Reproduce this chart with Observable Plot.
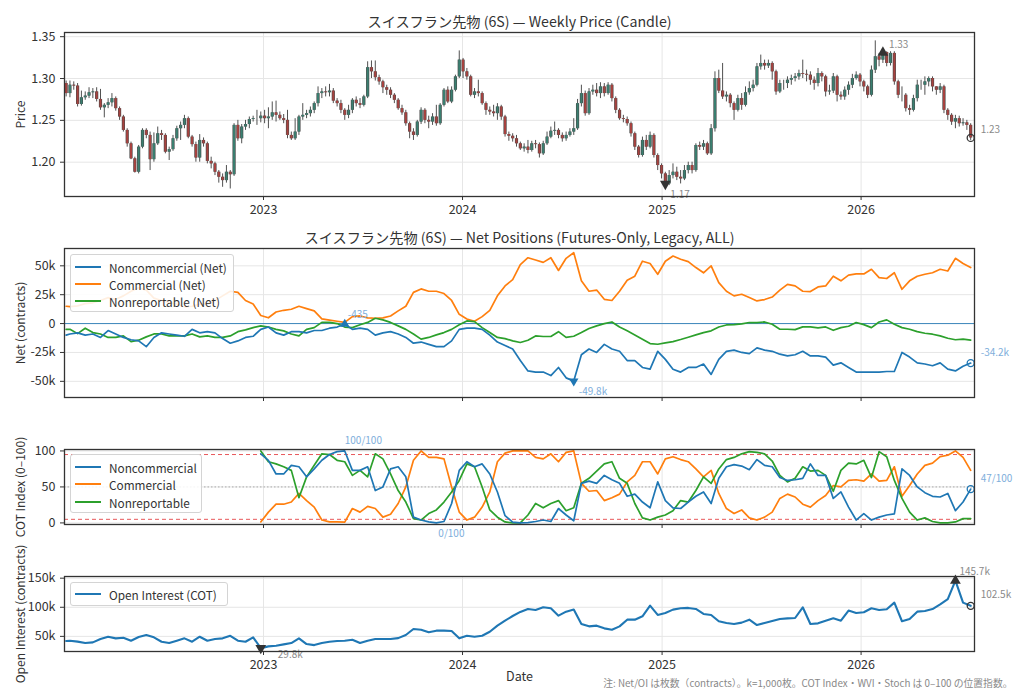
<!DOCTYPE html>
<html><head><meta charset="utf-8">
<script src="https://cdn.jsdelivr.net/npm/d3@7"></script>
<script src="https://cdn.jsdelivr.net/npm/@observablehq/plot@0.6"></script>
<style>
body{margin:0;background:#fff;}
#wrap{position:relative;width:1024px;height:699px;overflow:hidden;background:#fff;font-family:"Noto Sans CJK JP","Noto Sans",sans-serif;}
.panel{position:absolute;left:0;}
.legend{position:absolute;background:rgba(255,255,255,0.88);border:1px solid #d4d4d4;border-radius:3px;font-size:11.8px;color:#333;}
.legend .sw{position:absolute;left:4px;width:26px;height:2px;}
.legend .tx{position:absolute;left:38px;transform:translateY(-50%);white-space:nowrap;}
</style></head>
<body><div id="wrap"></div>
<script>
// ---------------- data ----------------
const firstOpen = 1.294;
const close = [1.282,1.292,1.291,1.269,1.277,1.279,1.283,1.284,1.275,1.265,
1.268,1.271,1.276,1.264,1.254,1.238,1.222,1.204,1.188,1.218,
1.238,1.232,1.203,1.222,1.234,1.232,1.212,1.215,1.228,1.240,
1.244,1.252,1.230,1.221,1.205,1.226,1.222,1.201,1.198,1.188,
1.182,1.178,1.188,1.185,1.244,1.228,1.242,1.245,1.251,1.252,
1.252,1.255,1.252,1.254,1.259,1.256,1.252,1.250,1.232,1.228,
1.236,1.254,1.256,1.258,1.262,1.270,1.282,1.284,1.283,1.285,
1.273,1.270,1.262,1.256,1.262,1.274,1.270,1.268,1.278,1.313,
1.308,1.301,1.296,1.289,1.286,1.280,1.274,1.264,1.259,1.246,
1.236,1.232,1.248,1.262,1.250,1.248,1.254,1.246,1.268,1.286,
1.272,1.286,1.302,1.322,1.308,1.302,1.280,1.284,1.282,1.270,
1.262,1.260,1.258,1.266,1.254,1.233,1.231,1.228,1.222,1.216,
1.218,1.214,1.222,1.221,1.210,1.222,1.230,1.237,1.238,1.232,
1.228,1.232,1.236,1.240,1.270,1.282,1.258,1.284,1.286,1.282,
1.290,1.282,1.292,1.276,1.262,1.252,1.251,1.246,1.234,1.218,
1.208,1.226,1.218,1.232,1.208,1.196,1.186,1.174,1.184,1.188,
1.182,1.180,1.190,1.196,1.190,1.220,1.218,1.222,1.210,1.240,
1.300,1.285,1.278,1.280,1.270,1.262,1.276,1.268,1.283,1.288,
1.292,1.314,1.318,1.315,1.318,1.308,1.284,1.294,1.294,1.298,
1.300,1.302,1.306,1.305,1.304,1.298,1.294,1.306,1.302,1.284,
1.285,1.302,1.280,1.278,1.286,1.292,1.300,1.304,1.296,1.290,
1.280,1.310,1.326,1.322,1.331,1.318,1.330,1.296,1.280,1.280,
1.264,1.262,1.276,1.292,1.292,1.296,1.300,1.290,1.286,1.290,
1.262,1.256,1.248,1.252,1.246,1.247,1.244,1.229];
const high = [1.297,1.297,1.296,1.294,1.285,1.284,1.289,1.288,1.289,1.287,
1.270,1.276,1.282,1.278,1.266,1.256,1.240,1.224,1.206,1.220,
1.240,1.240,1.236,1.235,1.242,1.238,1.234,1.218,1.232,1.243,
1.248,1.256,1.254,1.232,1.224,1.233,1.229,1.224,1.206,1.200,
1.190,1.186,1.196,1.190,1.246,1.250,1.245,1.250,1.254,1.255,
1.262,1.260,1.262,1.265,1.272,1.273,1.260,1.257,1.262,1.236,
1.252,1.256,1.270,1.262,1.266,1.272,1.290,1.288,1.290,1.293,
1.288,1.276,1.274,1.264,1.268,1.276,1.278,1.276,1.280,1.320,
1.321,1.321,1.304,1.298,1.292,1.289,1.282,1.276,1.268,1.262,
1.248,1.240,1.250,1.265,1.264,1.255,1.258,1.268,1.270,1.288,
1.290,1.290,1.304,1.333,1.324,1.312,1.304,1.288,1.298,1.284,
1.272,1.266,1.268,1.270,1.268,1.256,1.236,1.234,1.232,1.224,
1.222,1.226,1.225,1.226,1.223,1.225,1.236,1.242,1.248,1.240,
1.235,1.236,1.240,1.252,1.275,1.292,1.285,1.288,1.292,1.294,
1.295,1.294,1.295,1.294,1.278,1.264,1.256,1.254,1.248,1.236,
1.220,1.230,1.232,1.236,1.234,1.210,1.198,1.188,1.190,1.198,
1.194,1.190,1.196,1.200,1.200,1.222,1.224,1.226,1.224,1.245,
1.308,1.310,1.318,1.284,1.282,1.272,1.280,1.282,1.290,1.296,
1.298,1.318,1.328,1.322,1.322,1.320,1.310,1.298,1.298,1.302,
1.304,1.306,1.310,1.322,1.310,1.308,1.302,1.312,1.308,1.304,
1.292,1.306,1.304,1.284,1.290,1.296,1.305,1.308,1.306,1.298,
1.292,1.315,1.345,1.330,1.333,1.332,1.332,1.332,1.298,1.290,
1.282,1.268,1.280,1.298,1.298,1.302,1.302,1.302,1.290,1.294,
1.292,1.264,1.258,1.256,1.255,1.252,1.250,1.246];
const low = [1.278,1.277,1.286,1.266,1.267,1.274,1.276,1.276,1.272,1.262,
1.253,1.264,1.266,1.261,1.250,1.236,1.218,1.203,1.187,1.186,
1.216,1.228,1.190,1.200,1.220,1.226,1.210,1.202,1.213,1.225,
1.226,1.240,1.228,1.218,1.200,1.200,1.218,1.198,1.192,1.184,
1.175,1.170,1.175,1.168,1.183,1.225,1.222,1.238,1.240,1.248,
1.244,1.247,1.246,1.240,1.250,1.248,1.250,1.246,1.228,1.226,
1.226,1.232,1.250,1.252,1.254,1.258,1.266,1.276,1.278,1.278,
1.270,1.266,1.258,1.250,1.252,1.258,1.266,1.264,1.266,1.276,
1.300,1.297,1.292,1.282,1.280,1.276,1.270,1.262,1.256,1.243,
1.228,1.226,1.230,1.245,1.246,1.240,1.244,1.243,1.244,1.266,
1.270,1.270,1.284,1.300,1.300,1.298,1.278,1.276,1.278,1.268,
1.256,1.256,1.254,1.250,1.250,1.230,1.225,1.224,1.218,1.214,
1.212,1.210,1.212,1.216,1.205,1.208,1.220,1.228,1.232,1.228,
1.224,1.225,1.230,1.232,1.238,1.266,1.255,1.256,1.280,1.278,
1.276,1.278,1.280,1.272,1.258,1.250,1.247,1.243,1.230,1.214,
1.205,1.206,1.214,1.216,1.205,1.190,1.180,1.170,1.172,1.180,
1.178,1.174,1.178,1.186,1.186,1.188,1.214,1.214,1.208,1.208,
1.236,1.282,1.275,1.272,1.265,1.250,1.260,1.262,1.266,1.280,
1.284,1.290,1.310,1.310,1.312,1.298,1.280,1.282,1.286,1.288,
1.292,1.296,1.298,1.300,1.296,1.292,1.286,1.290,1.296,1.278,
1.280,1.282,1.272,1.274,1.274,1.280,1.288,1.298,1.290,1.284,
1.276,1.278,1.306,1.314,1.318,1.314,1.315,1.292,1.276,1.272,
1.260,1.256,1.260,1.272,1.286,1.280,1.290,1.284,1.280,1.282,
1.258,1.250,1.244,1.240,1.242,1.243,1.238,1.226];

// Net positions (thousand contracts), first week then every other week
const ncNetK = [-10,-9,-8,-10,-9,-12,-6,-9,-12,-14,-15,
-20,-12,-8,-9,-10,-11,-5,-8,-7,-8,
-13,-17,-15,-12,-11,-5,-3,-8,-10,-7,
-7,-8,-6,-6,-4,-3,-0.435,-5,-4,-5,
-10,-8,-7,-9,-12,-17,-16,-18,-20,-20,
-15,-5,-4,-4,-5,-10,-16,-19,-22,-32,
-41,-42,-42,-45,-38,-47,-49.8,-27,-22,-25,
-18,-22,-24,-32,-32,-38,-39.5,-24,-31,-39.5,
-42,-38,-38,-35,-44,-31,-24,-23,-25,-26,
-21,-23,-24,-26.5,-28,-27,-24,-28,-28,-29,
-36,-34,-38,-42,-42,-42,-42,-41.5,-41.5,-25,
-29,-34,-35,-36.5,-34,-39.5,-41,-37,-34.2];
const commNetK = [15,14.7,15.3,17.3,18,20,22.5,21,24,28,31,
29,22,20,18,17,14.5,15,17,17,20,
24,28,27,20,17,7,5,10,11.5,12.4,
15,13,11,4,3,2,1,6,6.6,5,
4.6,5,6.6,11,15,27,30,28,28,26,
20,8,4,2,6,11.5,24,32.6,38,51,
57,55,53,57,46,56.5,61.4,37,28,29,
21,20,28,37.5,41,54,52,42.7,54,58.5,
55.7,53.6,48.5,44,50,35.5,28,24,25.4,22.5,
19.6,20.8,23,29,34,32.6,28,27.7,31.7,32.6,
41,37,42,43,43,47,39.8,39,44,29.7,
37,41,42.7,44,47,45.5,56.5,52,48.5];
const nonrepNetK = [-5,-5,-8.7,-4,-7.8,-9,-12,-12,-10.7,-15.6,-14.4,
-11.5,-9,-9,-10.7,-10.7,-10.7,-9,-11.5,-10.7,-12,
-12,-10.7,-7,-5.5,-3.5,-2,-3,-5,-6.3,-9,
-10.7,-5,-3.5,1,1,0,-3,-3.5,-1,1,
4.6,3.2,1,-2,-5,-9,-13.5,-12,-9.8,-7.8,
-5,-1,2.3,1.7,-3.5,-7.8,-12,-13,-15,-16.4,
-14.4,-10.7,-11.2,-11.2,-7,-12,-11,-7.8,-4.3,-2,
0,1.4,-3,-6.3,-9.8,-13.5,-17.3,-17.9,-16.7,-15.6,
-13.8,-11.8,-9.8,-7.8,-6.3,-3,-1.2,-0.9,-0.3,0.9,
0.9,1.4,-0.6,-4.9,-4.9,-5.2,-2.9,-2.9,-3.7,-2.9,
-5.8,-3.5,-2.3,0.9,-0.9,-3.5,1.4,3.2,-0.6,-3.5,
-4.9,-7,-8.4,-9.2,-10.7,-12.7,-14,-13.5,-14.4];
// Open interest (thousand contracts)
const oiK = [42,42.5,41,38.5,39.7,45.4,49.4,46.6,47.7,42.5,48.9,
52.3,48.3,40.8,38.5,42.5,46.6,40.8,49.4,42.5,45.4,
46.6,51,42.5,40.8,48.3,29.8,32.8,33.9,36.2,38.5,
46.6,36.8,35,38.5,40.8,42,42.5,44.3,38.5,42.5,
45.4,45.4,45.4,47,52.3,62.6,61.5,57,59.8,59.8,
59.2,46.6,51,49.4,51,58,68.4,77,85,92,
97,95.4,100,98.3,85.6,92.5,96,71.3,67.2,68.4,
63.8,61.5,67.2,78.7,78.7,84.5,102.9,86.8,90.2,96,
98.3,98.9,97.1,88.5,86.8,75.9,73,71.3,73.6,78.7,
69.5,73,76.4,79.9,81,81.6,100,71.3,72.4,77,
81,77,94.3,90.2,91.4,98.3,95.4,96.5,108,76,
80,92.5,93.7,97,105,114,145.7,108,102.5];
// COT Index (0-100), starting end of 2022, every other week
const cotNC = [96,87,68,68,80,
78,64,75,87,95,99,100,73,73,78,
45,50,75,78,64,8,4,1.4,0,2,
27,73,85,78,82,68,43,10,1,0,
0.5,2,4,2,20,11,3,55,58,55,
66,60,55,37,40,29,21,57,31,21,
20,29,37,43,27,62,78,81,79,74,
88,80,78,63,59,60,62,82,66,66,
34,43,22,4,13,4,8,11,12.5,75,
66,50,42,37,36,41,17,29,47];
const cotComm = [1.4,15,26,26,29,
41,31,22,4,1.4,1.4,1,20,15,23,
20,8,12,27,50,87,100,91,91,89,
50,15,4,8,22,43,85,97,100,100,
100,91,89,96,85,98,100,55,44,45,
31,35,40,57,66,85,85,68,89,92,
88,85,75,64,73,41,20,13,18,7,
4,8,15,34,40,36,26,22,31,38,
52,50,59,60,58,68,58,59,78,37,
52,68,80,83,92,94,100,91,73];
const cotNonrep = [100,85,82,78,73,
35,64,80,96,95,87,85,66,73,64,
96,89,68,45,29,6,4,13,18,29,
43,59,82,78,50,18,8,1.4,0,0,
11,27,21,27,31,17,21,55,62,72,
82,85,62,55,27,7,4,8,11,17,
31,29,45,64,55,75,88,91,96,99,
98,96,86,66,57,62,78,72,73,66,
44,73,83,82,87,63,99,92,59,34,
15,4,7,2,0,0,1.4,6,6];

const yearTickLabels = ["2023","2024","2025","2026"];
const priceTicks = [1.20,1.25,1.30,1.35];
const netTicks = [-50,-25,0,25,50];
const cotTicks = [0,50,100];
const oiTicks = [50,100,150];

// ---------------- build ----------------
const FONT = '"Noto Sans CJK JP","Noto Sans",sans-serif';
const t0 = new Date(Date.UTC(2022,0,4));
const weekDate = i => d3.utcDay.offset(t0, 7*i);
const candles = close.map((c,i)=>({date: weekDate(i), open: i ? close[i-1] : firstOpen, close: c, high: high[i], low: low[i]}));
const lineDates = ncNetK.map((_,j)=> j===0 ? weekDate(0) : weekDate(2*(j-1)+1));
const series = arr => arr.map((v,j)=>({date: lineDates[j], v}));
const cotOffset = lineDates.length - cotNC.length;
const cotSeries = arr => arr.map((v,j)=>({date: lineDates[j+cotOffset], v}));

const xDomain = [new Date(Date.UTC(2022,0,1)), new Date(Date.UTC(2026,6,28))];
const yearTicks = yearTickLabels.map(y=>new Date(Date.UTC(+y,0,1)));
const C_BLUE="#1f77b4", C_ORANGE="#ff7f0e", C_GREEN="#2ca02c";
const C_UP="#3a7f70", C_DN="#a8423f";
const GRID="#e6e6e6", LBL_GRAY="#8a8a8a", LBL_BLUE="#7eaedb";
const style = {fontFamily: FONT, fontSize:"12.5px", color:"#333", background:"transparent", overflow:"visible"};

function xAxis(labels){
  return {type:"utc", domain:xDomain, ticks:yearTicks, tickFormat: labels ? (d=>d3.utcFormat("%Y")(d)) : (()=>""), tickSize:4, label:null};
}
const yLabel = t => Plot.text([t],{frameAnchor:"left", dx:-43, rotate:-90, textAnchor:"middle", fontSize:12, fill:"#333"});
const frame = Plot.frame({stroke:"#333", strokeWidth:1.3});
const wrap = document.getElementById("wrap");
function place(svg, top){ const d=document.createElement("div"); d.className="panel"; d.style.top=top+"px"; d.appendChild(svg); wrap.appendChild(d); }

const at = (arr, i) => [arr[i]];

// Panel 1: candles
const iMax = d3.maxIndex(candles, d=>d.close), iMin = d3.minIndex(candles, d=>d.close), iLast = candles.length-1;
const p1 = Plot.plot({
  width:1024, height:220, marginLeft:64, marginRight:50, marginTop:32, marginBottom:24, style,
  x: xAxis(true),
  y: {domain:[1.159,1.355], ticks:priceTicks, tickFormat:d=>d.toFixed(2), tickSize:4, label:null},
  marks:[
    Plot.gridX(yearTicks,{stroke:GRID, strokeOpacity:1}),
    Plot.gridY(priceTicks,{stroke:GRID, strokeOpacity:1}),
    Plot.ruleX(candles,{x:"date", y1:"low", y2:"high", stroke:"#505050", strokeWidth:1}),
    Plot.ruleX(candles,{x:"date", y1:"open", y2:"close", stroke:"#4a4a4a", strokeWidth:3.2}),
    Plot.ruleX(candles.filter(d=>d.close>=d.open),{x:"date", y1:"open", y2:"close", stroke:C_UP, strokeWidth:2}),
    Plot.ruleX(candles.filter(d=>d.close<d.open),{x:"date", y1:"open", y2:"close", stroke:C_DN, strokeWidth:2}),
    Plot.dot(at(candles,iMax),{x:"date", y:"close", symbol:"triangle", r:4, fill:"#333"}),
    Plot.text(at(candles,iMax),{x:"date", y:"close", text:d=>d.close.toFixed(2), dx:6, dy:-8, textAnchor:"start", fill:LBL_GRAY, fontSize:10}),
    Plot.dot(at(candles,iMin),{x:"date", y:"close", symbol:"triangle", rotate:180, r:4, fill:"#333"}),
    Plot.text(at(candles,iMin),{x:"date", y:"close", text:d=>d.close.toFixed(2), dx:5, dy:11, textAnchor:"start", fill:LBL_GRAY, stroke:"white", strokeWidth:3, fontSize:10}),
    Plot.dot(at(candles,iLast),{x:"date", y:"close", r:3.5, stroke:"#333", strokeWidth:1.3, fill:"none"}),
    Plot.text(at(candles,iLast),{x:"date", y:"close", text:d=>d.close.toFixed(2), dx:10, dy:-8, textAnchor:"start", fill:LBL_GRAY, fontSize:10}),
    frame,
    yLabel("Price"),
    Plot.text(["スイスフラン先物 (6S) — Weekly Price (Candle)"],{frameAnchor:"top", dy:-16, fontSize:14.2, fill:"#333"})
  ]
});
place(p1, 0);

// Panel 2: net positions
const ncS = series(ncNetK), cmS = series(commNetK), nrS = series(nonrepNetK);
const fmtK = v => Math.abs(v) < 1 ? String(Math.round(v*1000)) : v.toFixed(1)+"k";
const nMax = d3.maxIndex(ncS,d=>d.v), nMin = d3.minIndex(ncS,d=>d.v), nLast = ncS.length-1;
const p2 = Plot.plot({
  width:1024, height:190, marginLeft:64, marginRight:50, marginTop:28, marginBottom:13, style,
  x: xAxis(false),
  y: {domain:[-64,65], ticks:netTicks, tickFormat:d=>d===0?"0":d+"k", tickSize:4, label:null},
  marks:[
    Plot.gridX(yearTicks,{stroke:GRID, strokeOpacity:1}),
    Plot.gridY(netTicks,{stroke:GRID, strokeOpacity:1}),
    Plot.ruleY([0],{stroke:C_BLUE, strokeWidth:1, strokeOpacity:0.85}),
    Plot.line(cmS,{x:"date", y:"v", stroke:C_ORANGE, strokeWidth:1.7}),
    Plot.line(nrS,{x:"date", y:"v", stroke:C_GREEN, strokeWidth:1.7}),
    Plot.line(ncS,{x:"date", y:"v", stroke:C_BLUE, strokeWidth:1.7}),
    Plot.dot(at(ncS,nMax),{x:"date", y:"v", symbol:"triangle", r:3.5, fill:C_BLUE}),
    Plot.text(at(ncS,nMax),{x:"date", y:"v", text:d=>fmtK(d.v), dx:3, dy:-9, textAnchor:"start", fill:LBL_BLUE, fontSize:10}),
    Plot.dot(at(ncS,nMin),{x:"date", y:"v", symbol:"triangle", rotate:180, r:3.5, fill:C_BLUE}),
    Plot.text(at(ncS,nMin),{x:"date", y:"v", text:d=>fmtK(d.v), dx:5, dy:11, textAnchor:"start", fill:LBL_BLUE, stroke:"white", strokeWidth:3, fontSize:10}),
    Plot.dot(at(ncS,nLast),{x:"date", y:"v", r:3.5, stroke:C_BLUE, strokeWidth:1.3, fill:"none"}),
    Plot.text(at(ncS,nLast),{x:"date", y:"v", text:d=>fmtK(d.v), dx:10, dy:-10, textAnchor:"start", fill:LBL_BLUE, fontSize:10}),
    frame,
    yLabel("Net (contracts)"),
    Plot.text(["スイスフラン先物 (6S) — Net Positions (Futures-Only, Legacy, ALL)"],{frameAnchor:"top", dy:-16, fontSize:14.2, fill:"#333"})
  ]
});
place(p2, 220);

// Panel 3: COT index
const cNC = cotSeries(cotNC), cCM = cotSeries(cotComm), cNR = cotSeries(cotNonrep);
const cMax = d3.maxIndex(cNC,d=>d.v), cMin = d3.minIndex(cNC,d=>d.v), cLast = cNC.length-1;
const fmtIdx = d => Math.round(d.v)+"/100";
const p3 = Plot.plot({
  width:1024, height:120, marginLeft:64, marginRight:50, marginTop:29, marginBottom:16, style,
  x: xAxis(false),
  y: {domain:[-2.2,102], ticks:cotTicks, tickSize:4, label:null},
  marks:[
    Plot.gridX(yearTicks,{stroke:GRID, strokeOpacity:1}),
    Plot.gridY(cotTicks,{stroke:GRID, strokeOpacity:1}),
    Plot.ruleY([50],{stroke:"#aaa", strokeWidth:1, strokeDasharray:"1.5,2"}),
    Plot.ruleY([5,95],{stroke:"#e8575a", strokeWidth:1, strokeDasharray:"4,3"}),
    Plot.line(cCM,{x:"date", y:"v", stroke:C_ORANGE, strokeWidth:1.7}),
    Plot.line(cNR,{x:"date", y:"v", stroke:C_GREEN, strokeWidth:1.7}),
    Plot.line(cNC,{x:"date", y:"v", stroke:C_BLUE, strokeWidth:1.7}),
    Plot.text(at(cNC,cMax),{x:"date", y:"v", text:fmtIdx, dx:0, dy:-10, textAnchor:"start", fill:LBL_BLUE, fontSize:10}),
    Plot.text(at(cNC,cMin),{x:"date", y:"v", text:fmtIdx, dx:2, dy:11, textAnchor:"start", fill:LBL_BLUE, fontSize:10}),
    Plot.dot(at(cNC,cLast),{x:"date", y:"v", r:3.5, stroke:C_BLUE, strokeWidth:1.3, fill:"none"}),
    Plot.text(at(cNC,cLast),{x:"date", y:"v", text:fmtIdx, dx:10, dy:-10, textAnchor:"start", fill:LBL_BLUE, fontSize:10}),
    frame,
    yLabel("COT Index (0–100)")
  ]
});
place(p3, 420);

// Panel 4: open interest
const oiS = series(oiK);
const oMax = d3.maxIndex(oiS,d=>d.v), oMin = d3.minIndex(oiS,d=>d.v), oLast = oiS.length-1;
const p4 = Plot.plot({
  width:1024, height:154, marginLeft:64, marginRight:50, marginTop:31, marginBottom:48, style,
  x: xAxis(true),
  y: {domain:[24,152.9], ticks:oiTicks, tickFormat:d=>d+"k", tickSize:4, label:null},
  marks:[
    Plot.gridX(yearTicks,{stroke:GRID, strokeOpacity:1}),
    Plot.gridY(oiTicks,{stroke:GRID, strokeOpacity:1}),
    Plot.line(oiS,{x:"date", y:"v", stroke:C_BLUE, strokeWidth:2.1}),
    Plot.dot(at(oiS,oMin),{x:"date", y:"v", symbol:"triangle", rotate:180, r:4, fill:"#333"}),
    Plot.text(at(oiS,oMin),{x:"date", y:"v", text:d=>d.v.toFixed(1)+"k", dx:17, dy:7, textAnchor:"start", fill:LBL_GRAY, fontSize:10}),
    Plot.dot(at(oiS,oMax),{x:"date", y:"v", symbol:"triangle", r:4, fill:"#333"}),
    Plot.text(at(oiS,oMax),{x:"date", y:"v", text:d=>d.v.toFixed(1)+"k", dx:4, dy:-9, textAnchor:"start", fill:LBL_GRAY, fontSize:10}),
    Plot.dot(at(oiS,oLast),{x:"date", y:"v", r:3.5, stroke:"#333", strokeWidth:1.3, fill:"none"}),
    Plot.text(at(oiS,oLast),{x:"date", y:"v", text:d=>d.v.toFixed(1)+"k", dx:10, dy:-11, textAnchor:"start", fill:LBL_GRAY, fontSize:10}),
    frame,
    yLabel("Open Interest (contracts)"),
    Plot.text(["Date"],{frameAnchor:"bottom", dy:29, fontSize:12.5, fill:"#333"}),
    Plot.text(["注: Net/OI は枚数（contracts）。k=1,000枚。COT Index・WVI・Stoch は 0–100 の位置指数。"],{frameAnchor:"bottom-right", dx:38, dy:35, textAnchor:"end", fontSize:9.8, fill:"#888"})
  ]
});
place(p4, 545);

// Legends
function legend(left, top, w, h, rows){
  const box = document.createElement("div");
  box.className="legend";
  Object.assign(box.style,{left:left+"px", top:top+"px", width:w+"px", height:h+"px"});
  rows.forEach(([label,color,y,lw])=>{
    const sw=document.createElement("div"); sw.className="sw";
    Object.assign(sw.style,{top:(y-1)+"px", background:color, height:(lw||2)+"px"});
    const tx=document.createElement("div"); tx.className="tx"; tx.textContent=label; tx.style.top=y+"px";
    box.appendChild(sw); box.appendChild(tx);
  });
  wrap.appendChild(box);
}
legend(70,254,162,56,[["Noncommercial (Net)",C_BLUE,11.5],["Commercial (Net)",C_ORANGE,28.8],["Nonreportable (Net)",C_GREEN,46.3]]);
legend(70,454,130,57,[["Noncommercial",C_BLUE,11.5],["Commercial",C_ORANGE,29],["Nonreportable",C_GREEN,46.5]]);
legend(70,582,156,22,[["Open Interest (COT)",C_BLUE,10.5,2.5]]);
</script></body></html>
